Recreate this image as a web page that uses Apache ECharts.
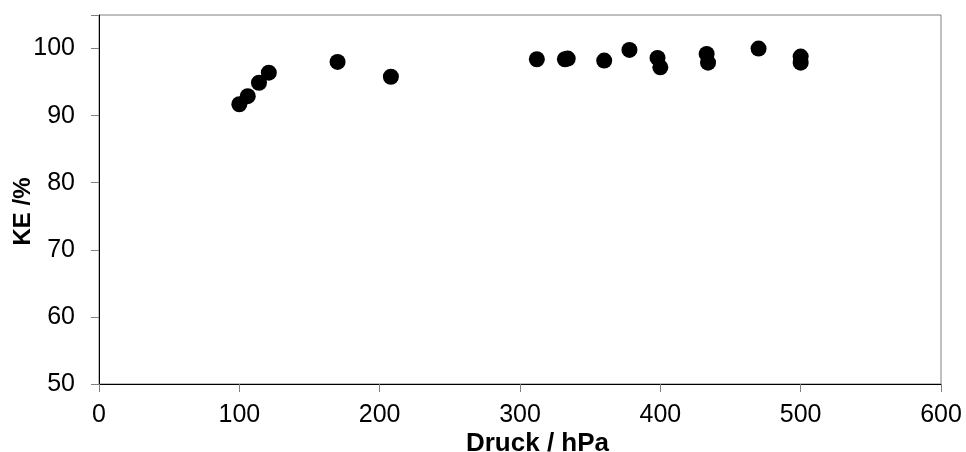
<!DOCTYPE html>
<html>
<head>
<meta charset="utf-8">
<script src="https://cdn.jsdelivr.net/npm/echarts@6/dist/echarts.min.js"></script>
<style>
  html, body { margin: 0; padding: 0; background: #fff; }
  #chart { width: 966px; height: 452px; }
</style>
</head>
<body>
<div id="chart"></div>
<script>
// Pressure (hPa) and KE (%) measurements
const druck = [100, 106, 114, 121, 170, 208, 312, 332, 334, 360, 378, 398, 400, 433, 434, 470, 500, 500];
const ke    = [91.7, 92.9, 94.9, 96.4, 98.0, 95.8, 98.4, 98.4, 98.5, 98.2, 99.8, 98.6, 97.2, 99.2, 97.9, 100.0, 98.8, 97.9];

const xTicks = { min: 0, max: 600, interval: 100 };
const yTicks = { min: 50, max: 105, interval: 10 };

const points = druck.map((d, i) => [d, ke[i]]);

const chart = echarts.init(document.getElementById('chart'), null, { renderer: 'canvas' });
const font = 'Liberation Sans, Arial, sans-serif';

chart.setOption({
  animation: false,
  backgroundColor: '#ffffff',
  grid: {
    left: 99, right: 25, top: 15, bottom: 68,
    containLabel: false,
    outerBoundsMode: 'none',
    show: true, borderColor: '#808080', borderWidth: 1
  },
  xAxis: {
    type: 'value',
    min: xTicks.min, max: xTicks.max, interval: xTicks.interval,
    name: 'Druck / hPa',
    nameLocation: 'middle',
    nameMoveOverlap: false,
    nameGap: 47,
    nameTextStyle: { fontFamily: font, fontWeight: 'bold', fontSize: 26, color: '#000', padding: [0, 0, 0, 35] },
    axisLine: { show: true, lineStyle: { color: '#000', width: 1 } },
    axisTick: { show: true, inside: false, length: 8, lineStyle: { color: '#808080' } },
    axisLabel: { fontFamily: font, fontSize: 25, color: '#000', margin: 19 },
    splitLine: { show: false }
  },
  yAxis: {
    type: 'value',
    min: yTicks.min, max: yTicks.max, interval: yTicks.interval,
    name: 'KE /%',
    nameLocation: 'middle',
    nameMoveOverlap: false,
    nameGap: 64,
    nameRotate: 90,
    nameTextStyle: { fontFamily: font, fontWeight: 'bold', fontSize: 24, color: '#000', padding: [0, 24, 0, 0] },
    axisLine: { show: true, lineStyle: { color: '#000', width: 1 } },
    axisTick: { show: true, inside: false, length: 8, lineStyle: { color: '#808080' } },
    axisLabel: {
      fontFamily: font, fontSize: 25, color: '#000', margin: 24,
      formatter: v => (v % 10 === 0 ? String(v) : '')
    },
    splitLine: { show: false }
  },
  series: [{
    type: 'scatter',
    data: points,
    symbol: 'circle',
    symbolSize: 16,
    itemStyle: { color: '#000', opacity: 1 }
  }]
});
</script>
</body>
</html>
